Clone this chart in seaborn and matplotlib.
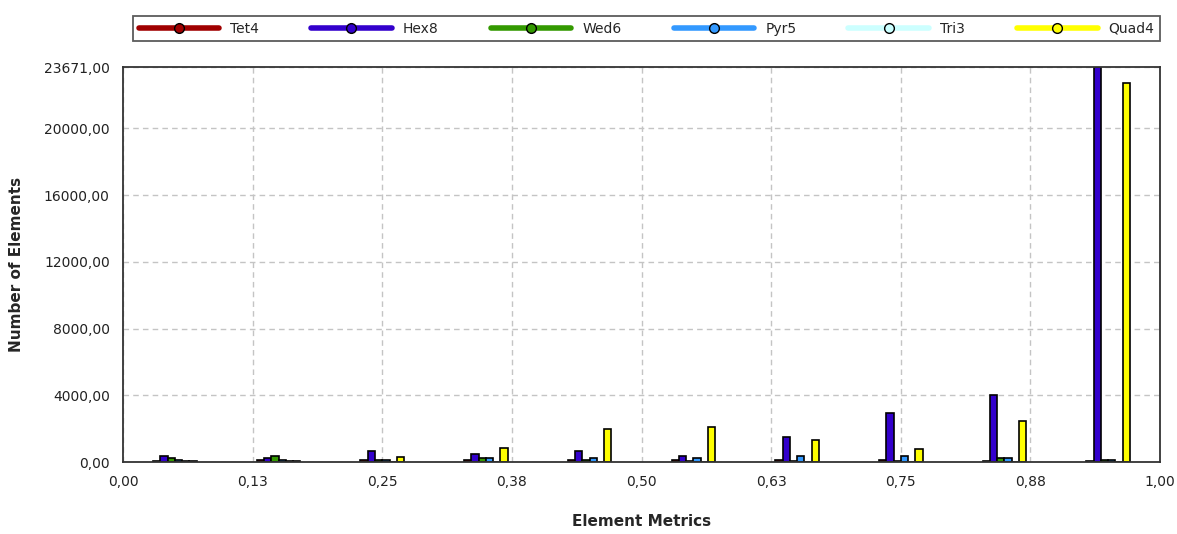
import matplotlib
matplotlib.use("Agg")
import matplotlib.pyplot as plt
from matplotlib.lines import Line2D
from matplotlib.ticker import FuncFormatter
import numpy as np
import pandas as pd
import seaborn as sns

# bin centres of the element metric histogram
bins = [0.05, 0.15, 0.25, 0.35, 0.45, 0.55, 0.65, 0.75, 0.85, 0.95]

element_types = ["Tet4", "Hex8", "Wed6", "Pyr5", "Tri3", "Quad4"]
tet4 = [60, 120, 140, 140, 140, 140, 120, 120, 40, 40]
hex8 = [360, 240, 660, 460, 660, 360, 1500, 2950, 4010, 23671]
wed6 = [220, 360, 140, 220, 100, 40, 40, 40, 240, 150]
pyr5 = [140, 140, 140, 260, 260, 260, 360, 360, 240, 150]
tri3 = [60, 60, 0, 0, 0, 0, 0, 0, 0, 0]
quad4 = [60, 60, 280, 840, 2000, 2100, 1320, 760, 2460, 22730]

colors = ["#A00000", "#3300CC", "#339900", "#3399FF", "#CCFFFF", "#FFFF00"]
y_ticks = [0, 4000, 8000, 12000, 16000, 20000, 23671]
x_ticks = [0, 0.125, 0.25, 0.375, 0.5, 0.625, 0.75, 0.875, 1.0]
x_labels = ["0,00", "0,13", "0,25", "0,38", "0,50", "0,63", "0,75", "0,88", "1,00"]

series = [tet4, hex8, wed6, pyr5, tri3, quad4]
rows = []
for name, vals in zip(element_types, series):
    for b, v in zip(bins, vals):
        rows.append({"metric": b, "count": v, "type": name})
df = pd.DataFrame(rows)

sns.set_style("white")
plt.rcParams['font.family'] = ['DejaVu Sans']

fig = plt.figure(figsize=(11.77, 5.34), dpi=100)
ax = fig.add_axes([0.1045, 0.1348, 0.8811, 0.7397])

sns.barplot(data=df, x="metric", y="count", hue="type", hue_order=element_types,
            palette=colors, saturation=1, native_scale=True, width=0.42, dodge=True,
            edgecolor="black", linewidth=1.2, errorbar=None, legend=False, ax=ax)

ax.set_xlim(0, 1)
ax.set_ylim(0, 23671)
ax.set_xticks(x_ticks)
ax.set_xticklabels(x_labels)
ax.set_yticks(y_ticks)
ax.yaxis.set_major_formatter(FuncFormatter(lambda v, p: f"{v:.2f}".replace(".", ",")))
ax.tick_params(axis="both", direction="out", length=6, color="#999999",
               labelsize=10, labelcolor="#222222")
ax.grid(True, linestyle=(0, (4, 3)), color="#c4c4c4", linewidth=1)
ax.set_axisbelow(True)
for s in ax.spines.values():
    s.set_color("#333333")
    s.set_linewidth(1.3)

ax.set_xlabel("Element Metrics", fontsize=11, fontweight="bold", labelpad=18)
ax.set_ylabel("Number of Elements", fontsize=11, fontweight="bold", labelpad=14)

handles = [Line2D([0], [0], color=c, lw=4, marker="o", markersize=7,
                  markerfacecolor=c, markeredgecolor="black", markeredgewidth=1)
           for c in colors]
leg = fig.legend(handles, element_types, loc="lower left",
                 bbox_to_anchor=(0.113, 0.923, 0.8726, 0.0545), mode="expand",
                 ncol=6, frameon=True, fancybox=False, edgecolor="#333333",
                 fontsize=10, handlelength=5.8, handletextpad=0.8, borderaxespad=0)
leg.get_frame().set_linewidth(1.3)

plt.savefig("out.png", dpi=100)
